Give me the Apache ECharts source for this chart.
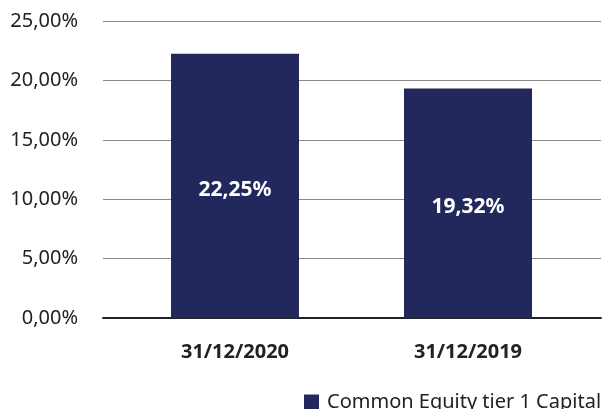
<!DOCTYPE html>
<html>
<head>
<meta charset="utf-8">
<script src="https://cdn.jsdelivr.net/npm/echarts@6/dist/echarts.min.js"></script>
<style>
  html, body { margin: 0; padding: 0; background: #fff; }
  #chart { width: 603px; height: 409px; }
</style>
</head>
<body>
<div id="chart"></div>
<script>
const categories = ['31/12/2020', '31/12/2019']
const seriesName = 'Common Equity tier 1 Capital'
const values = [22.25, 19.32]
const yMax = 25
const yStep = 5

const fmt = (v) => v.toFixed(2).replace('.', ',') + '%'
const font = 'Noto Sans'

const myChart = echarts.init(document.getElementById('chart'))
myChart.setOption({
  animation: false,
  textStyle: { fontFamily: font },
  legend: {
    left: 299,
    top: 387,
    itemWidth: 15,
    itemHeight: 15,
    itemGap: 8,
    textStyle: { fontSize: 20, color: '#222', fontFamily: font, padding: [0, 0, 0, 3] },
    data: [{ name: seriesName, icon: 'rect' }]
  },
  grid: [
    // grid for gridlines + y labels
    { left: 103, right: 2, top: 21, bottom: 91 },
    // grid for bars
    { left: 118.5, right: 18.5, top: 21, bottom: 91 }
  ],
  xAxis: [
    {
      gridIndex: 0,
      type: 'category',
      data: categories,
      axisLine: { lineStyle: { color: '#222', width: 2 } },
      axisTick: { show: false },
      axisLabel: { show: false }
    },
    {
      gridIndex: 1,
      type: 'category',
      data: categories,
      axisLine: { show: false },
      axisTick: { show: false },
      axisLabel: {
        margin: 24,
        fontSize: 20,
        fontWeight: 'bold',
        color: '#222',
        fontFamily: font
      }
    }
  ],
  yAxis: [
    {
      gridIndex: 0,
      type: 'value',
      min: 0,
      max: yMax,
      interval: yStep,
      axisLine: { show: false },
      axisTick: { show: false },
      splitLine: { lineStyle: { color: '#888', width: 1 } },
      axisLabel: {
        margin: 25,
        fontSize: 20,
        color: '#222',
        fontFamily: font,
        formatter: fmt
      }
    },
    {
      gridIndex: 1,
      type: 'value',
      min: 0,
      max: yMax,
      interval: yStep,
      show: false,
      splitLine: { show: false }
    }
  ],
  series: [
    {
      name: seriesName,
      type: 'bar',
      xAxisIndex: 1,
      yAxisIndex: 1,
      data: values,
      barWidth: 128,
      itemStyle: { color: '#22285c' },
      label: {
        show: true,
        position: 'inside',
        offset: [0, 4],
        color: '#fff',
        fontSize: 21,
        fontWeight: 'bold',
        fontFamily: font,
        formatter: (p) => fmt(p.value)
      }
    }
  ]
})
</script>
</body>
</html>
